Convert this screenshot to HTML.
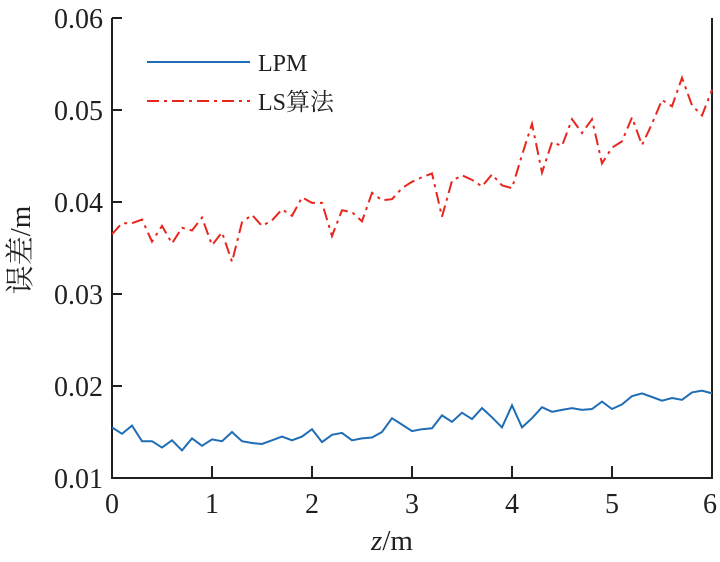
<!DOCTYPE html>
<html><head><meta charset="utf-8"><style>
html,body{margin:0;padding:0;background:#fff;}
svg text{font-family:"Liberation Serif","Noto Serif CJK SC",serif;fill:#231f20;}
</style></head><body>
<svg id="s" width="720" height="557" viewBox="0 0 720 557" xmlns="http://www.w3.org/2000/svg">
<g stroke="#231f20" stroke-width="2" fill="none">
<line x1="112" y1="18" x2="112" y2="479"/>
<line x1="111" y1="478" x2="713" y2="478"/>
<line x1="712" y1="18" x2="712" y2="479"/>
<line x1="112" y1="18" x2="122" y2="18"/>
<line x1="112" y1="110" x2="122" y2="110"/>
<line x1="112" y1="202" x2="122" y2="202"/>
<line x1="112" y1="294" x2="122" y2="294"/>
<line x1="112" y1="386" x2="122" y2="386"/>
<line x1="212" y1="478" x2="212" y2="466"/>
<line x1="312" y1="478" x2="312" y2="466"/>
<line x1="412" y1="478" x2="412" y2="466"/>
<line x1="512" y1="478" x2="512" y2="466"/>
<line x1="612" y1="478" x2="612" y2="466"/>
</g>
<g font-size="28" text-anchor="end">
<text x="103" y="28">0.06</text>
<text x="103" y="120">0.05</text>
<text x="103" y="212">0.04</text>
<text x="103" y="304">0.03</text>
<text x="103" y="396">0.02</text>
<text x="103" y="488">0.01</text>
</g>
<g font-size="28" text-anchor="middle">
<text x="112" y="513">0</text><text x="212" y="513">1</text><text x="312" y="513">2</text>
<text x="412" y="513">3</text><text x="512" y="513">4</text><text x="612" y="513">5</text><text x="710" y="513">6</text>
<text x="392" y="550" font-size="29"><tspan style="font-style:italic">z</tspan>/m</text>
</g>
<text font-size="29" text-anchor="middle" transform="translate(30,250) rotate(-90)">误差/m</text>
<line x1="147" y1="62" x2="250" y2="62" stroke="#1f6db5" stroke-width="2"/>
<text x="258" y="71" font-size="24">LPM</text>
<line x1="147" y1="101" x2="250" y2="101" stroke="#e8261d" stroke-width="2" stroke-dasharray="12,5,3,5"/>
<text x="258" y="110" font-size="24">LS算法</text>
<polyline id="lpm" fill="none" stroke="#1f6db5" stroke-width="2" points=""/>
<polyline id="ls" fill="none" stroke="#e8261d" stroke-width="2" stroke-dasharray="12,5,3,5" points=""/>
</svg>
<script>
var a=[15.5,14.8,15.7,14.0,14.0,13.3,14.1,13.0,14.3,13.5,14.2,14.0,15.0,14.0,13.8,13.7,14.1,14.5,14.1,14.5,15.3,13.9,14.7,14.9,14.1,14.3,14.4,15.0,16.5,15.8,15.1,15.3,15.4,16.8,16.1,17.1,16.4,17.6,16.6,15.5,17.9,15.5,16.5,17.7,17.2,17.4,17.6,17.4,17.5,18.3,17.5,18.0,18.9,19.2,18.8,18.4,18.7,18.5,19.3,19.5,19.2];
var b=[36.5,37.7,37.7,38.1,35.7,37.4,35.5,37.2,36.9,38.3,35.3,36.7,33.5,37.8,38.6,37.4,38.0,39.2,38.5,40.5,39.9,39.9,36.3,39.1,38.9,37.9,41.0,40.2,40.3,41.5,42.2,42.7,43.1,38.4,42.3,42.9,42.4,41.7,43.0,41.8,41.5,45.1,48.5,43.2,46.5,46.1,49.0,47.5,49.0,44.2,45.9,46.6,49.2,46.2,48.5,51.1,50.4,53.5,50.5,49.4,52.2];
function p(d){return d.map(function(v,i){return (112+i*10)+','+(478-(v-10)*9.2).toFixed(1)}).join(' ');}
document.getElementById('lpm').setAttribute('points',p(a));
document.getElementById('ls').setAttribute('points',p(b));
</script>
</body></html>
